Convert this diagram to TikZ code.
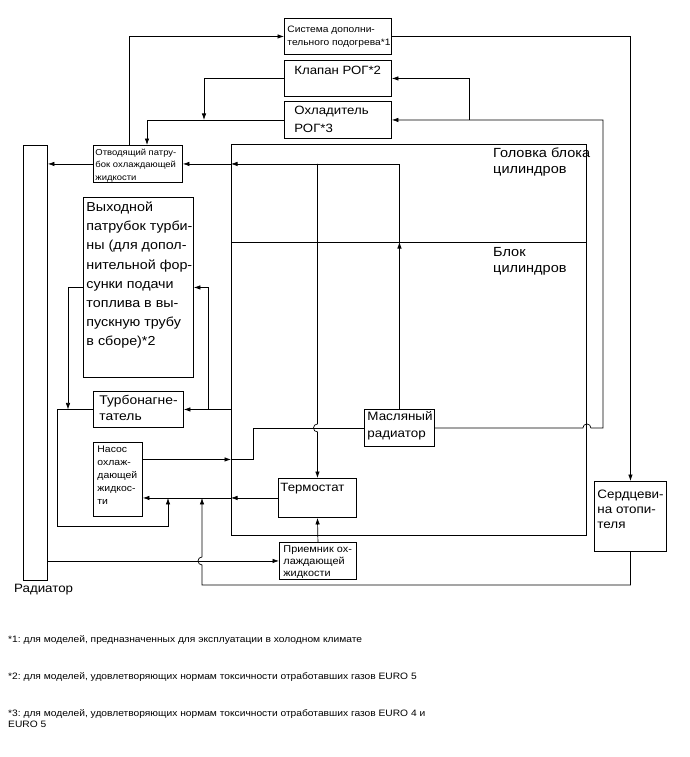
\documentclass[tikz,border=0pt]{standalone}
\usepackage{fontspec}
\setmainfont{Liberation Sans}[FakeStretch=1.1]
\usetikzlibrary{arrows.meta,calc}
\frenchspacing
\newcommand{\cell}[5]{\parbox[c][#2][t]{#1}{\leftskip=#3\relax\rightskip=-60pt plus 1fil\relax\rule{0pt}{#4}#5}}
\tikzstyle{unit} = [draw=black, line width=0.9pt, anchor=north west, inner sep=0pt]
\tikzstyle{caption} = [anchor=base west, inner sep=0pt, align=left]
\tikzstyle{pipe} = [line width=0.7pt]
\tikzstyle{arrow} = [pipe, -{Latex[length=6.5pt,width=4.5pt]}]
\begin{document}
\begin{tikzpicture}[x=1pt, y=-1pt]
\useasboundingbox (0,0) rectangle (689,757);
\node[unit, font=\fontsize{9.3}{13.3}\selectfont] (heating) at (284,18) {\cell{107pt}{36pt}{3pt}{14pt}{Система дополни-\\тельного подогрева*1}};
\node[unit, font=\fontsize{12}{16}\selectfont] (valve) at (284,60) {\cell{107pt}{36pt}{10pt}{14pt}{Клапан РОГ*2}};
\node[unit, font=\fontsize{12}{18}\selectfont] (cooler) at (284,101) {\cell{107pt}{37pt}{10pt}{13pt}{Охладитель\\РОГ*3}};
\node[unit, font=\fontsize{8.6}{12.3}\selectfont] (outlet) at (93,145) {\cell{89pt}{37pt}{2pt}{10pt}{Отводящий патру-\\бок охлаждающей\\жидкости}};
\node[unit, font=\fontsize{13}{19.2}\selectfont] (turbine) at (83,197) {\cell{110pt}{180pt}{3pt}{14pt}{Выходной\\патрубок турби-\\ны (для допол-\\нительной фор-\\сунки подачи\\топлива в вы-\\пускную трубу\\в сборе)*2}};
\node[unit, font=\fontsize{12.6}{15.7}\selectfont] (turbo) at (93,391) {\cell{90pt}{36pt}{6pt}{13pt}{Турбонагне-\\татель}};
\node[unit, font=\fontsize{9.5}{13}\selectfont] (pump) at (93,442) {\cell{49pt}{74pt}{4pt}{10pt}{Насос\\охлаж-\\дающей\\жидкос-\\ти}};
\node[unit, font=\fontsize{12.2}{17}\selectfont] (oilcooler) at (364,409) {\cell{70pt}{37pt}{3pt}{11pt}{Масляный\\радиатор}};
\node[unit, font=\fontsize{12}{15}\selectfont] (thermo) at (278,478) {\cell{78pt}{39pt}{2pt}{13pt}{Термостат}};
\node[unit, font=\fontsize{9.9}{12}\selectfont] (tank) at (279,542) {\cell{77pt}{37pt}{4pt}{10pt}{Приемник ох-\\лаждающей\\жидкости}};
\node[unit, font=\fontsize{12.2}{15}\selectfont] (heater) at (594,481) {\cell{72pt}{70pt}{3pt}{17pt}{Сердцеви-\\на отопи-\\теля}};
\node[unit, minimum width=24pt, minimum height=435pt] (radiator) at (23,145) {};
\node[unit, minimum width=355pt, minimum height=98pt] (head) at (231,144) {};
\node[unit, minimum width=355pt, minimum height=293pt] (block) at (231,242) {};
\node[caption, font=\fontsize{13.2}{16}\selectfont] (headlabel) at (493,173) {Головка блока\\цилиндров};
\node[caption, font=\fontsize{13.2}{16}\selectfont] (blocklabel) at (493,272) {Блок\\цилиндров};
\node[caption, font=\fontsize{12.1}{14}\selectfont] (radlabel) at (14,592) {Радиатор};
\node[caption, font=\fontsize{9.3}{11}\selectfont] (note1) at (8,642) {*1: для моделей, предназначенных для эксплуатации в холодном климате};
\node[caption, font=\fontsize{9.3}{11}\selectfont] (note2) at (8,679) {*2: для моделей, удовлетворяющих нормам токсичности отработавших газов EURO 5};
\node[caption, font=\fontsize{9.3}{10.5}\selectfont] (note3) at (8,727) {*3: для моделей, удовлетворяющих нормам токсичности отработавших газов EURO 4 и\\EURO 5};
\coordinate (egrx) at (603,0);
\coordinate (valvex) at (469,0);
\coordinate (dropx) at (204,0);
\coordinate (coolx) at (147,0);
\coordinate (heatx) at (129,0);
\coordinate (branchx) at (208,0);
\coordinate (exhx) at (68,0);
\coordinate (loopc) at (57,526);
\coordinate (loopx) at (168,0);
\coordinate (retx) at (202,0);
\coordinate (rety) at (0,585);
\coordinate (pumpx) at (253,0);
\draw[arrow] (outlet.west) -- (outlet.west -| radiator.east);
\draw[arrow] (oilcooler.north) -- (oilcooler.north |- block.north);
\draw[arrow] (oilcooler.north |- block.north) -- (oilcooler.north |- outlet.east) -- (head.west |- outlet.east);
\draw[arrow] (head.west |- outlet.east) -- (outlet.east);
\draw[arrow] (thermo.north |- outlet.east) -- ([yshift=4pt]thermo.north |- oilcooler.west) arc[start angle=90, end angle=270, radius=4pt] -- (thermo.north);
\draw[arrow] ([yshift=20pt]pump.east) -- ([yshift=20pt]pump.east -| block.west);
\draw[pipe] ([yshift=20pt]pump.east -| block.west) -| (pumpx |- oilcooler.west) -- (oilcooler.west);
\draw[arrow] (oilcooler.east) -- ([xshift=-4pt]block.east |- oilcooler.east) arc[start angle=180, end angle=0, radius=4pt] -- (egrx |- oilcooler.east) -- (egrx |- cooler.east) -- (cooler.east);
\draw[arrow] (valvex |- cooler.east) -- (valvex |- valve.east) -- (valve.east);
\draw[arrow] (valve.west) -| (dropx |- cooler.west);
\draw[arrow] (cooler.west) -| (coolx |- outlet.north);
\draw[arrow] (heatx |- outlet.north) |- (heating.west);
\draw[arrow] (heating.east) -| (heater.north);
\draw[arrow] (heater.south) |- (retx |- rety) -- ([yshift=-4pt]retx |- tank.west) arc[start angle=270, end angle=90, radius=4pt] -- (retx |- thermo.west);
\draw[arrow] (thermo.west) -- (thermo.west -| block.west);
\draw[arrow] (thermo.west -| block.west) -- (thermo.west -| pump.east);
\draw[arrow] (tank.west -| radiator.east) -- (tank.west);
\draw[arrow] (tank.north) -- (thermo.south);
\draw[arrow] (turbo.east -| block.west) -- (turbo.east);
\draw[arrow] (branchx |- turbo.east) |- (turbine.east);
\draw[arrow] (turbine.west) -| (exhx |- turbo.west);
\draw[arrow] (turbo.west) -| (loopc) -| (loopx |- thermo.west);
\end{tikzpicture}
\end{document}
